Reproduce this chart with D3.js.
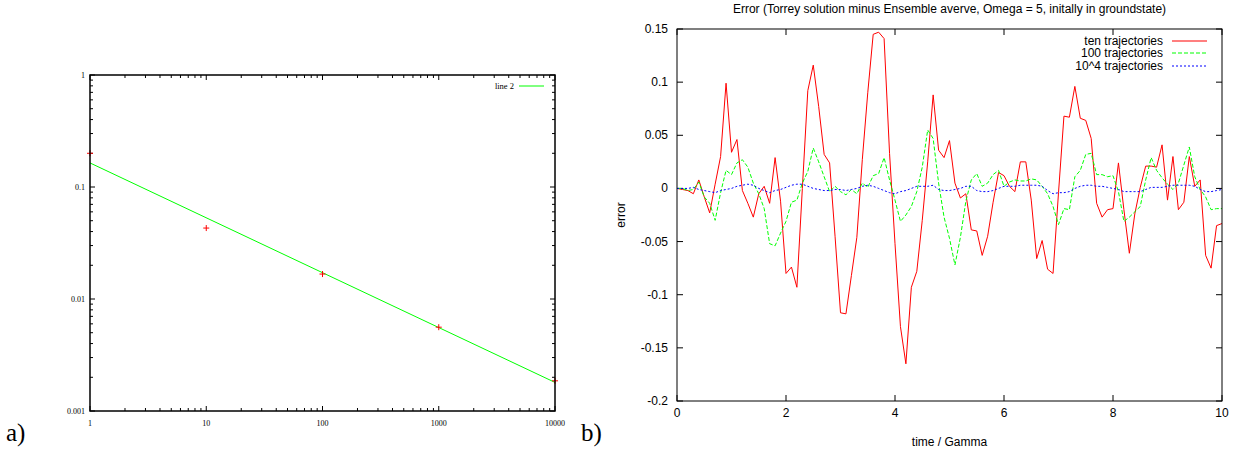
<!DOCTYPE html>
<html>
<head>
<meta charset="utf-8">
<script src="https://cdn.jsdelivr.net/npm/d3@7"></script>
<style>
  html, body { margin: 0; padding: 0; background: #fff; }
  svg { display: block; }
</style>
</head>
<body>
<svg id="chart" width="1239" height="449"></svg>
<script>
// ---------- Panel a) data ----------
const aX = [1, 10, 100, 1000, 10000];
const aY = [0.2, 0.043, 0.0167, 0.0056, 0.00186];
const aFitX = [1, 10000];
const aFitY = [0.164, 0.0018];
const aXTicks = [1, 10, 100, 1000, 10000];
const aXTickLabels = ["1", "10", "100", "1000", "10000"];
const aYTicks = [1, 0.1, 0.01, 0.001];
const aYTickLabels = ["1", "0.1", "0.01", "0.001"];
const aLegend = "line 2";

// ---------- Panel b) data ----------
const bTitle = "Error (Torrey solution minus Ensemble averve, Omega = 5, initally in groundstate)";
const bSeriesNames = ["ten trajectories", "100 trajectories", "10^4 trajectories"];
const timeStep = 0.1;
const tenTraj = [0, -0.001, -0.002, -0.005, 0.008, -0.008, -0.023, 0.004, 0.030, 0.099,
  0.034, 0.046, -0.002, -0.014, -0.027, -0.005, 0.002, -0.014, 0.029, -0.012,
  -0.080, -0.074, -0.093, 0.000, 0.092, 0.116, 0.077, 0.032, 0.024, -0.045,
  -0.117, -0.118, -0.082, -0.046, 0.027, 0.090, 0.145, 0.147, 0.141, 0.033,
  -0.052, -0.130, -0.165, -0.093, -0.078, -0.030, 0.025, 0.088, 0.036, 0.029,
  0.045, 0.005, -0.009, -0.005, -0.039, -0.040, -0.063, -0.045, -0.013, 0.015,
  0.012, 0.002, -0.003, 0.025, 0.025, -0.011, -0.066, -0.049, -0.076, -0.080,
  -0.004, 0.068, 0.067, 0.096, 0.066, 0.064, 0.047, -0.014, -0.027, -0.020,
  -0.019, 0.024, -0.020, -0.061, -0.024, 0.001, 0.021, 0.021, 0.020, 0.041,
  -0.011, 0.030, -0.020, -0.013, 0.030, 0.002, 0.008, -0.063, -0.075, -0.035,
  -0.033];
const hundredTraj = [0, 0, -0.002, -0.001, 0.006, -0.008, -0.014, -0.030, -0.004, 0.017,
  0.013, 0.024, 0.027, 0.020, 0.005, -0.005, -0.019, -0.052, -0.054, -0.042,
  -0.031, -0.013, -0.011, 0.005, 0.016, 0.038, 0.025, 0.011, -0.003, 0.002,
  -0.003, -0.006, -0.001, -0.005, 0.005, 0.001, 0.012, 0.014, 0.029, 0.008,
  -0.011, -0.031, -0.025, -0.017, -0.003, 0.020, 0.055, 0.047, 0.005, -0.027,
  -0.047, -0.072, -0.046, -0.012, 0.008, 0.014, 0.002, 0.005, 0.013, 0.017,
  0.002, 0.006, 0.008, 0.007, 0.007, 0.009, 0.008, 0.002, -0.005, -0.017,
  -0.034, -0.019, -0.020, 0.011, 0.017, 0.032, 0.033, 0.013, 0.013, 0.011,
  0.012, -0.003, -0.031, -0.027, -0.022, -0.017, 0.008, 0.029, 0.017, 0.010,
  0.004, -0.001, 0.005, 0.022, 0.039, 0.011, -0.001, -0.008, -0.020, -0.019,
  -0.019];
const tenKTraj = [0, 0, 0, 0.001, -0.001, -0.002, -0.003, -0.004, -0.002, -0.001,
  0, 0.002, 0.003, 0.004, 0.003, 0, -0.002, -0.004, -0.002, -0.001,
  0.001, 0.003, 0.004, 0.004, 0.002, 0, -0.001, -0.002, -0.002, -0.001,
  -0.001, -0.002, -0.001, 0, 0.002, 0.003, 0.002, 0, -0.002, -0.004,
  -0.005, -0.003, -0.002, 0, 0.002, 0.002, 0.002, 0.003, -0.001, -0.002,
  -0.002, -0.001, 0, 0.002, 0.002, -0.002, -0.003, -0.003, -0.002, 0,
  0.002, 0.002, 0.002, 0.003, 0.003, 0.003, 0.003, 0.002, -0.002, -0.005,
  -0.004, -0.004, -0.003, 0, 0.002, 0.003, 0.003, 0.002, 0.002, 0.001,
  0, -0.001, -0.003, -0.003, -0.003, -0.003, -0.001, 0.001, 0.001, 0.001,
  0.002, 0.003, 0.003, 0.003, 0.003, 0.002, -0.001, -0.003, -0.003, -0.002,
  -0.001];
const bXTicks = [0, 2, 4, 6, 8, 10];
const bYTicks = [-0.2, -0.15, -0.1, -0.05, 0, 0.05, 0.1, 0.15];
const bYTickLabels = ["-0.2", "-0.15", "-0.1", "-0.05", "0", "0.05", "0.1", "0.15"];
const bXLabel = "time / Gamma";
const bYLabel = "error";

const svg = d3.select("#chart");

// ================= Panel a =================
const ax = d3.scaleLog().domain([1, 10000]).range([90, 555]);
const ay = d3.scaleLog().domain([0.001, 1]).range([411, 75]);
const ga = svg.append("g");
const serif = "'Liberation Serif', 'DejaVu Serif', serif";

// minor + major ticks (inward, all four sides)
const aMinorX = [], aMinorY = [];
[1, 10, 100, 1000].forEach(d => { for (let m = 2; m <= 9; m++) aMinorX.push(d * m); });
[0.001, 0.01, 0.1].forEach(d => { for (let m = 2; m <= 9; m++) aMinorY.push(d * m); });
const tickG = ga.append("g").attr("stroke", "#000").attr("stroke-width", 1);
const [ay0, ay1] = ay.range();
const [ax0, ax1] = ax.range();
function aTickX(v, len) {
  tickG.append("line").attr("x1", ax(v)).attr("x2", ax(v)).attr("y1", ay0).attr("y2", ay0 - len);
  tickG.append("line").attr("x1", ax(v)).attr("x2", ax(v)).attr("y1", ay1).attr("y2", ay1 + len);
}
function aTickY(v, len) {
  tickG.append("line").attr("y1", ay(v)).attr("y2", ay(v)).attr("x1", ax0).attr("x2", ax0 + len);
  tickG.append("line").attr("y1", ay(v)).attr("y2", ay(v)).attr("x1", ax1).attr("x2", ax1 - len);
}
aXTicks.forEach(v => aTickX(v, 5));
aMinorX.forEach(v => aTickX(v, 3));
aYTicks.forEach(v => aTickY(v, 5));
aMinorY.forEach(v => aTickY(v, 3));

// tick labels
ga.append("g").selectAll("text").data(aXTicks).join("text")
  .attr("x", d => ax(d)).attr("y", ay0 + 15)
  .attr("text-anchor", "middle").attr("font-family", serif).attr("font-size", 8).attr("fill", "#000")
  .text((d, i) => aXTickLabels[i]);
ga.append("g").selectAll("text").data(aYTicks).join("text")
  .attr("x", ax0 - 5).attr("y", d => ay(d) + 3)
  .attr("text-anchor", "end").attr("font-family", serif).attr("font-size", 8).attr("fill", "#000")
  .text((d, i) => aYTickLabels[i]);

// fit line
ga.append("path")
  .datum(aFitX.map((x, i) => [x, aFitY[i]]))
  .attr("d", d3.line().x(d => ax(d[0])).y(d => ay(d[1])))
  .attr("fill", "none").attr("stroke", "#00ff00").attr("stroke-width", 1);

// data points (+)
const pts = ga.append("g").attr("stroke", "#ff0000").attr("stroke-width", 1);
aX.forEach((x, i) => {
  const px = ax(x), py = ay(aY[i]);
  pts.append("line").attr("x1", px - 3).attr("x2", px + 3).attr("y1", py).attr("y2", py);
  pts.append("line").attr("x1", px).attr("x2", px).attr("y1", py - 3).attr("y2", py + 3);
});

// frame
ga.append("rect").attr("x", ax0).attr("y", ay1).attr("width", ax1 - ax0).attr("height", ay0 - ay1)
  .attr("fill", "none").attr("stroke", "#000").attr("stroke-width", 1.5);

// legend
ga.append("text").attr("x", 514).attr("y", 89).attr("text-anchor", "end")
  .attr("font-family", serif).attr("font-size", 8.5).text(aLegend);
ga.append("line").attr("x1", 519).attr("x2", 544).attr("y1", 86).attr("y2", 86)
  .attr("stroke", "#00ff00").attr("stroke-width", 1);

// panel labels
svg.append("text").attr("x", 6).attr("y", 441).attr("font-family", serif).attr("font-size", 25).text("a)");
svg.append("text").attr("x", 581).attr("y", 441).attr("font-family", serif).attr("font-size", 25).text("b)");

// ================= Panel b =================
const sans = "'Liberation Sans', Arial, Helvetica, sans-serif";
const bx = d3.scaleLinear().domain([0, 10]).range([677, 1222]);
const by = d3.scaleLinear().domain([-0.2, 0.15]).range([401, 29]);
const gb = svg.append("g");
const [by0, by1] = by.range();
const [bx0, bx1] = bx.range();

const btick = gb.append("g").attr("stroke", "#000").attr("stroke-width", 1);
bXTicks.forEach(v => {
  btick.append("line").attr("x1", bx(v)).attr("x2", bx(v)).attr("y1", by0).attr("y2", by0 - 6);
  btick.append("line").attr("x1", bx(v)).attr("x2", bx(v)).attr("y1", by1).attr("y2", by1 + 6);
});
bYTicks.forEach(v => {
  btick.append("line").attr("y1", by(v)).attr("y2", by(v)).attr("x1", bx0).attr("x2", bx0 + 6);
  btick.append("line").attr("y1", by(v)).attr("y2", by(v)).attr("x1", bx1).attr("x2", bx1 - 6);
});

gb.append("g").selectAll("text").data(bXTicks).join("text")
  .attr("x", d => bx(d)).attr("y", by0 + 16)
  .attr("text-anchor", "middle").attr("font-family", sans).attr("font-size", 12).attr("fill", "#000")
  .text(d => d);
gb.append("g").selectAll("text").data(bYTicks).join("text")
  .attr("x", bx0 - 9).attr("y", d => by(d) + 4)
  .attr("text-anchor", "end").attr("font-family", sans).attr("font-size", 12).attr("fill", "#000")
  .text((d, i) => bYTickLabels[i]);

// series
const times = tenTraj.map((_, i) => i * timeStep);
const bLine = d3.line().x((d, i) => bx(times[i])).y(d => by(d));
const styles = [
  { data: tenTraj, color: "#ff0000", dash: null },
  { data: hundredTraj, color: "#00ff00", dash: "4,2" },
  { data: tenKTraj, color: "#0000ff", dash: "2,2" }
];
styles.forEach(s => {
  gb.append("path").datum(s.data).attr("d", bLine)
    .attr("fill", "none").attr("stroke", s.color).attr("stroke-width", 1)
    .attr("stroke-dasharray", s.dash);
});

// frame
gb.append("rect").attr("x", bx0).attr("y", by1).attr("width", bx1 - bx0).attr("height", by0 - by1)
  .attr("fill", "none").attr("stroke", "#000").attr("stroke-width", 1);

// legend
styles.forEach((s, i) => {
  const yy = [41, 53, 66][i];
  gb.append("text").attr("x", 1163).attr("y", yy + 4).attr("text-anchor", "end")
    .attr("font-family", sans).attr("font-size", 12).text(bSeriesNames[i]);
  gb.append("line").attr("x1", 1172).attr("x2", 1207).attr("y1", yy).attr("y2", yy)
    .attr("stroke", s.color).attr("stroke-width", 1.2).attr("stroke-dasharray", s.dash);
});

// title and axis labels
gb.append("text").attr("x", (bx0 + bx1) / 2).attr("y", 13).attr("text-anchor", "middle")
  .attr("font-family", sans).attr("font-size", 12).text(bTitle);
gb.append("text").attr("x", (bx0 + bx1) / 2).attr("y", 446).attr("text-anchor", "middle")
  .attr("font-family", sans).attr("font-size", 12).text(bXLabel);
gb.append("text").attr("transform", `translate(625, ${(by0 + by1) / 2}) rotate(-90)`)
  .attr("text-anchor", "middle").attr("font-family", sans).attr("font-size", 12).text(bYLabel);
</script>
</body>
</html>
